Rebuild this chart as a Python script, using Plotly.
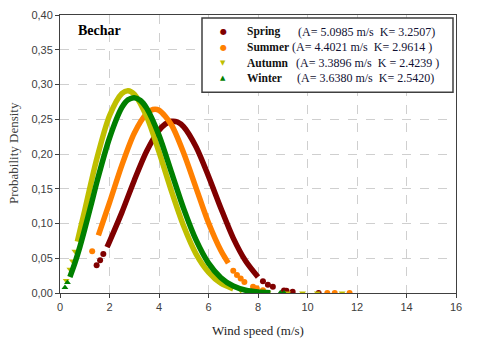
import plotly.graph_objects as go

# ---------------- data ----------------
seasons = ["Spring", "Summer", "Autumn", "Winter"]
params = ["(A=\u00a05.0985\u00a0m/s\u00a0\u00a0K=\u00a03.2507)",
          "(A=\u00a04.4021\u00a0m/s\u00a0\u00a0K=\u00a02.9614\u00a0)",
          "(A=\u00a03.3896\u00a0m/s\u00a0\u00a0K\u00a0=\u00a02.4239\u00a0)",
          "(A=\u00a03.6380\u00a0m/s\u00a0\u00a0K=\u00a02.5420)"]

# dense part of each curve
spring_x = [1.9, 2.0, 2.5, 3.0, 3.5, 4.0, 4.25, 4.5, 4.75, 5.0, 5.5, 6.0, 6.5, 7.0, 7.5, 8.0]
spring_y = [0.066, 0.074, 0.116, 0.162, 0.204, 0.234, 0.243, 0.247, 0.246, 0.239, 0.210, 0.168, 0.122, 0.079, 0.046, 0.023]
summer_x = [1.55, 2.0, 2.5, 3.0, 3.5, 3.75, 4.0, 4.5, 5.0, 5.5, 6.0, 6.5, 6.8]
summer_y = [0.083, 0.130, 0.184, 0.230, 0.258, 0.264, 0.263, 0.242, 0.201, 0.151, 0.101, 0.061, 0.043]
autumn_x = [0.7, 0.8, 1.0, 1.25, 1.5, 2.0, 2.5, 2.75, 3.0, 3.5, 4.0, 4.5, 5.0, 5.5, 6.0, 6.5, 7.0]
autumn_y = [0.074, 0.089, 0.119, 0.158, 0.195, 0.255, 0.287, 0.291, 0.286, 0.254, 0.203, 0.147, 0.096, 0.056, 0.030, 0.014, 0.006]
winter_x = [0.4, 0.6, 0.8, 1.0, 1.25, 1.5, 2.0, 2.5, 2.75, 3.0, 3.25, 3.5, 4.0, 4.5, 5.0, 5.5, 6.0, 6.5, 7.0, 7.5, 8.0, 8.5]
winter_y = [0.023, 0.043, 0.066, 0.092, 0.126, 0.161, 0.223, 0.267, 0.278, 0.281, 0.277, 0.266, 0.227, 0.174, 0.121, 0.076, 0.043, 0.022, 0.010, 0.004, 0.0015, 0.0005]

# isolated points (start / tail of each curve)
spring_px = [1.48, 1.62, 1.75, 8.2, 8.4, 8.6, 9.05, 9.15, 9.4, 10.45]
spring_py = [0.040, 0.047, 0.056, 0.017, 0.012, 0.009, 0.0037, 0.0032, 0.0017, 0.0001]
summer_px = [1.3, 7.0, 7.15, 7.3, 7.45, 7.8, 7.95, 8.2, 10.8, 11.1, 11.7]
summer_py = [0.060, 0.032, 0.026, 0.021, 0.016, 0.009, 0.007, 0.004, 0.0, 0.0, 0.0]
autumn_px = [0.25, 0.4, 0.5, 0.6, 7.3, 7.75, 8.4, 9.2, 9.8, 10.4, 11.4]
autumn_py = [0.018, 0.034, 0.046, 0.060, 0.0035, 0.0015, 0.0005, 0.0001, 0.0, 0.0, 0.0]
winter_px = [0.2, 0.3, 8.9, 9.05]
winter_py = [0.008, 0.015, 0.0002, 0.0001]

x_ticks = [0, 2, 4, 6, 8, 10, 12, 14, 16]
y_ticks = [0.00, 0.05, 0.10, 0.15, 0.20, 0.25, 0.30, 0.35, 0.40]

# ---------------- styles ----------------
colors = ["#800000", "#FF8000", "#BFBF00", "#008000"]
symbols = ["circle", "circle", "triangle-down", "triangle-up"]
glyphs = ["\u25CF", "\u25CF", "\u25BC", "\u25B2"]
curves = [(spring_x, spring_y, spring_px, spring_py),
          (summer_x, summer_y, summer_px, summer_py),
          (autumn_x, autumn_y, autumn_px, autumn_py),
          (winter_x, winter_y, winter_px, winter_py)]

W, H = 480, 344
L, R, T, B = 60, 24, 9, 51
PW, PH = W - L - R, H - T - B


def px(xpix):
    return (xpix - L) / PW


def py(ypix):
    return (H - B - ypix) / PH


fig = go.Figure()
for name, col, sym, (cx, cy, sx, sy) in zip(seasons, colors, symbols, curves):
    fig.add_trace(go.Scatter(x=cx, y=cy, mode="lines", showlegend=False,
                             line=dict(color=col, width=5.5, shape="spline", smoothing=0.8)))
    fig.add_trace(go.Scatter(x=sx, y=sy, mode="markers", name=name, showlegend=False,
                             marker=dict(color=col, symbol=sym, size=6, line=dict(width=0))))

serif = "Liberation Serif"
sans = "Liberation Sans"

ann = []
# axis titles
ann.append(dict(text="Wind speed (m/s)", x=0.5, y=py(331), xref="paper", yref="paper",
                xanchor="center", yanchor="middle", showarrow=False,
                font=dict(family=serif, size=13, color="#262626")))
ann.append(dict(text="Probability Density", x=px(13), y=py(150), xref="paper", yref="paper",
                xanchor="center", yanchor="middle", showarrow=False, textangle=-90,
                font=dict(family=serif, size=13, color="#404040")))
ann.append(dict(text="<b>Bechar</b>", x=px(76), y=py(25), xref="paper", yref="paper",
                xanchor="left", yanchor="middle", showarrow=False,
                font=dict(family=serif, size=14, color="#000000")))

# manual legend
row_y = [26, 42, 58, 73]
par_x = [296, 290, 294, 295]
for i in range(4):
    ann.append(dict(text=glyphs[i], x=px(223), y=py(row_y[i]), xref="paper", yref="paper",
                    xanchor="center", yanchor="middle", showarrow=False,
                    font=dict(family="DejaVu Sans", size=8 if i < 2 else 7, color=colors[i])))
    ann.append(dict(text="<b>" + seasons[i] + "</b>", x=px(245), y=py(row_y[i]), xref="paper",
                    yref="paper", xanchor="left", yanchor="middle", showarrow=False,
                    font=dict(family=serif, size=11.5, color="#111111")))
    ann.append(dict(text=params[i], x=px(par_x[i]), y=py(row_y[i]), xref="paper",
                    yref="paper", xanchor="left", yanchor="middle", showarrow=False,
                    font=dict(family=serif, size=12, color="#111133")))

shapes = [dict(type="rect", xref="paper", yref="paper", x0=px(202), x1=px(453),
               y0=py(88), y1=py(12), line=dict(color="#404040", width=1.5),
               fillcolor="white", layer="above")]

axis_common = dict(showline=True, linecolor="#404040", linewidth=1, mirror=True,
                   ticks="outside", ticklen=4, tickcolor="#404040",
                   showgrid=True, gridcolor="#cfcfcf", griddash="dash", gridwidth=1,
                   zeroline=False, tickfont=dict(family=sans, size=11, color="#404040"))

fig.update_layout(
    width=W, height=H,
    margin=dict(l=L, r=R, t=T, b=B),
    paper_bgcolor="white", plot_bgcolor="white",
    separators=",.",
    xaxis=dict(range=[0, 16], tickvals=x_ticks, **axis_common),
    yaxis=dict(range=[0, 0.40], tickvals=y_ticks, tickformat=".2f", **axis_common),
    annotations=ann, shapes=shapes, showlegend=False,
)

fig.write_html("out.html", config={"displayModeBar": False},
               post_script="document.body.style.margin='0';document.body.style.padding='0';")
